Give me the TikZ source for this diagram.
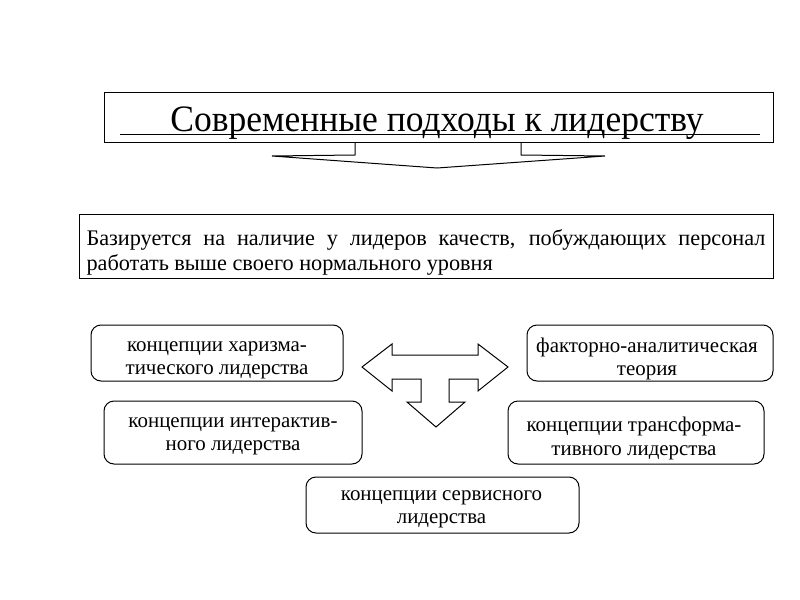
\documentclass[tikz,border=0pt]{standalone}
\usepackage{fontspec}
\setmainfont{Liberation Serif}
\begin{document}
\begin{tikzpicture}[x=0.75pt,y=-0.75pt,line width=0.75pt,
  rbox/.style={draw, rounded corners=7.5pt, inner sep=0pt},
  rtext/.style={inner sep=0pt, align=center, font=\fontsize{15.7}{17.5}\selectfont},
  plainbox/.style={draw, inner sep=0pt},
  desctext/.style={anchor=base west, inner sep=0pt, font=\fontsize{16.7}{20}\selectfont},
  arrowshape/.style={draw, line join=miter}]
\useasboundingbox (0,0) rectangle (800,600);
% title
\node[plainbox, minimum width=501.75pt, minimum height=37.5pt] (title) at (438.5,117) {};
\node[anchor=base, inner sep=0pt] (titletext) at (437,131)
  {\resizebox{400pt}{18.5pt}{\fontsize{35}{40}\selectfont Современные подходы к лидерству}};
\coordinate (ulL) at (120,134);
\coordinate (ulR) at (760,134);
\draw (ulL) -- (ulR);
% down arrow under title
\coordinate (nL) at (355,142);
\coordinate (nR) at (521,142);
\draw[arrowshape] (nL) -- (355,155) -- (272,156) -- (437,168) -- (605,156) -- (521,155) -- (nR);
% description box
\node[plainbox, minimum width=520.5pt, minimum height=48pt] (desc) at (426,246) {};
\node[desctext] (d1) at (86,245)
  {\makebox[509.25pt][s]{Базируется на наличие у лидеров качеств, побуждающих персонал}};
\node[desctext] (d2) at (86,270)
  {работать выше своего нормального уровня};
% rounded boxes
\node[rbox, minimum width=189pt, minimum height=42pt] (charisma) at (217,353) {};
\node[rtext] (charismaT) at (217,360) {концепции харизма-\\тического лидерства};
\node[rbox, minimum width=184.5pt, minimum height=42pt] (factor) at (650,353) {};
\node[rtext] (factorT) at (647,359) {факторно-аналитическая\\теория};
\node[rbox, minimum width=193.5pt, minimum height=47.25pt] (inter) at (233,432.5) {};
\node[rtext] (interT) at (233,436.5) {концепции интерактив-\\ного лидерства};
\node[rbox, minimum width=192pt, minimum height=47.25pt] (transf) at (636,432.5) {};
\node[rtext] (transfT) at (634,438.5) {концепции трансформа-\\тивного лидерства};
\node[rbox, minimum width=204.75pt, minimum height=42pt] (service) at (442.5,505) {};
\node[rtext] (serviceT) at (441.5,509) {концепции сервисного\\лидерства};
% central three-way arrow
\draw[arrowshape] (362,367) -- (392,344) -- (392,355) -- (478,355) -- (478,344) -- (508,367)
  -- (478,391) -- (478,379) -- (449,379) -- (449,402) -- (465,402) -- (436,427)
  -- (407,402) -- (421,402) -- (421,379) -- (392,379) -- (392,391) -- cycle;
\end{tikzpicture}
\end{document}
